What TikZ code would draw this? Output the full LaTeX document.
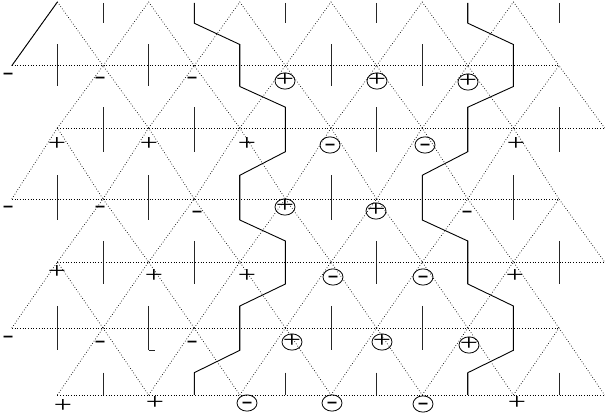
\documentclass[tikz,border=0pt]{standalone}
\usepackage{fontspec}
\setmainfont{Liberation Serif}
\usetikzlibrary{shapes.geometric}
\newcommand\splus{\scalebox{1.4}[1]{+}}
\newcommand\sminus{\scalebox{1.5}[1]{-}}
\newcommand\cplus{\makebox[0pt]{\splus}}
\newcommand\cminus{\makebox[0pt]{\sminus}}

\begin{document}
\begin{tikzpicture}[x=1pt, y=-1pt,
    lat/.style={dotted, line width=0.7pt},
    dimer/.style={line width=0.9pt, black!85},
    wall/.style={line width=0.9pt},
    sg/.style={inner sep=0pt, font=\fontsize{23}{23}\selectfont,
               text height=11.5pt, text depth=0pt},
    csg/.style={sg, draw, ellipse, line width=0.8pt,
                minimum width=20pt, minimum height=16pt}
]
    \useasboundingbox (0,0) rectangle (605,419);

    % lattice sites
    \foreach \r/\y in {0/2, 1/65.7, 2/128, 3/199, 4/262, 5/328, 6/395}
        \foreach \m in {0,...,13}
            \coordinate (v\m-\r) at ({11.8+45.6*\m}, \y);

    % up triangles
    \foreach \r in {0,...,5}
        \foreach \k in {0,...,5} {
            \pgfmathtruncatemacro\m{2*\k+1+mod(\r,2)}
            \pgfmathtruncatemacro\ml{\m-1}
            \pgfmathtruncatemacro\mr{\m+1}
            \pgfmathtruncatemacro\rn{\r+1}
            \draw[lat] (v\ml-\rn) -- (v\m-\r) -- (v\mr-\rn);
        }
    \foreach \r/\a/\b in {1/0/12, 2/1/13, 3/0/12, 4/1/13, 5/0/12, 6/1/13}
        \draw[lat] (v\a-\r) -- (v\b-\r);
    \draw[wall] (v0-1) -- (v1-0);

    % vertical dimers
    \foreach \r/\yt/\yb in {0/3/23.2, 1/44.5/86.5, 2/107.2/151.7, 3/175.3/220,
                            4/241/284, 5/306/350.3, 6/372.7/395}
        \foreach \k in {0,...,5} {
            \pgfmathtruncatemacro\m{2*\k+2-mod(\r,2)}
            \coordinate (t\m-\r) at ({11.8+45.6*\m}, \yt);
            \coordinate (b\m-\r) at ({11.8+45.6*\m}, \yb);
            \draw[dimer] (t\m-\r) -- (b\m-\r);
        }
    \draw[dimer] (b3-5) -- ++(6,0);

    % domain walls
    \draw[wall] (t4-0) -- (b4-0) -- (t5-1) -- (b5-1) -- (t6-2) -- (b6-2)
        -- (t5-3) -- (b5-3) -- (t6-4) -- (b6-4) -- (t5-5) -- (b5-5)
        -- (t4-6) -- (b4-6);
    \draw[wall] (t10-0) -- (b10-0) -- (t11-1) -- (b11-1) -- (t10-2) -- (b10-2)
        -- (t9-3) -- (b9-3) -- (t10-4) -- (b10-4) -- (t11-5) -- (b11-5)
        -- (t10-6) -- (b10-6);

    % row 1
    \node[sg] (s1a) at (8,74) {\sminus};
    \node[sg] (s1b) at (100,78) {\sminus};
    \node[sg] (s1c) at (192,78) {\sminus};
    \node[csg] (s1d) at (285,81) {\cplus};
    \node[csg] (s1e) at (377,81) {\cplus};
    \node[csg] (s1f) at (468,82) {\cplus};

    % row 2
    \node[sg] (s2a) at (57,145) {\splus};
    \node[sg] (s2b) at (149,145) {\splus};
    \node[sg] (s2c) at (247,145) {\splus};
    \node[csg] (s2d) at (330,145) {\cminus};
    \node[csg] (s2e) at (425,145) {\cminus};
    \node[sg] (s2f) at (516,145) {\splus};

    % row 3
    \node[sg] (s3a) at (8,207) {\sminus};
    \node[sg] (s3b) at (100,207) {\sminus};
    \node[sg] (s3c) at (197,212) {\sminus};
    \node[csg] (s3d) at (285,207) {\cplus};
    \node[csg] (s3e) at (376,211) {\cplus};
    \node[sg] (s3f) at (467,212) {\sminus};

    % row 4
    \node[sg] (s4a) at (57,273) {\splus};
    \node[sg] (s4b) at (154,277) {\splus};
    \node[sg] (s4c) at (247,277) {\splus};
    \node[csg] (s4d) at (333,277) {\cminus};
    \node[csg] (s4e) at (423,277) {\cminus};
    \node[sg] (s4f) at (515,277) {\splus};

    % row 5
    \node[sg] (s5a) at (8,337) {\sminus};
    \node[sg] (s5b) at (100,342) {\sminus};
    \node[sg] (s5c) at (192,342) {\sminus};
    \node[csg] (s5d) at (292,342) {\cplus};
    \node[csg] (s5e) at (382,342) {\cplus};
    \node[csg] (s5f) at (469,345) {\cplus};

    % row 6
    \node[sg] (s6a) at (63,407) {\splus};
    \node[sg] (s6b) at (155,404) {\splus};
    \node[csg] (s6c) at (247,403) {\cminus};
    \node[csg] (s6d) at (332,403) {\cminus};
    \node[csg] (s6e) at (423,404) {\cminus};
    \node[sg] (s6f) at (517,404) {\splus};
\end{tikzpicture}
\end{document}
